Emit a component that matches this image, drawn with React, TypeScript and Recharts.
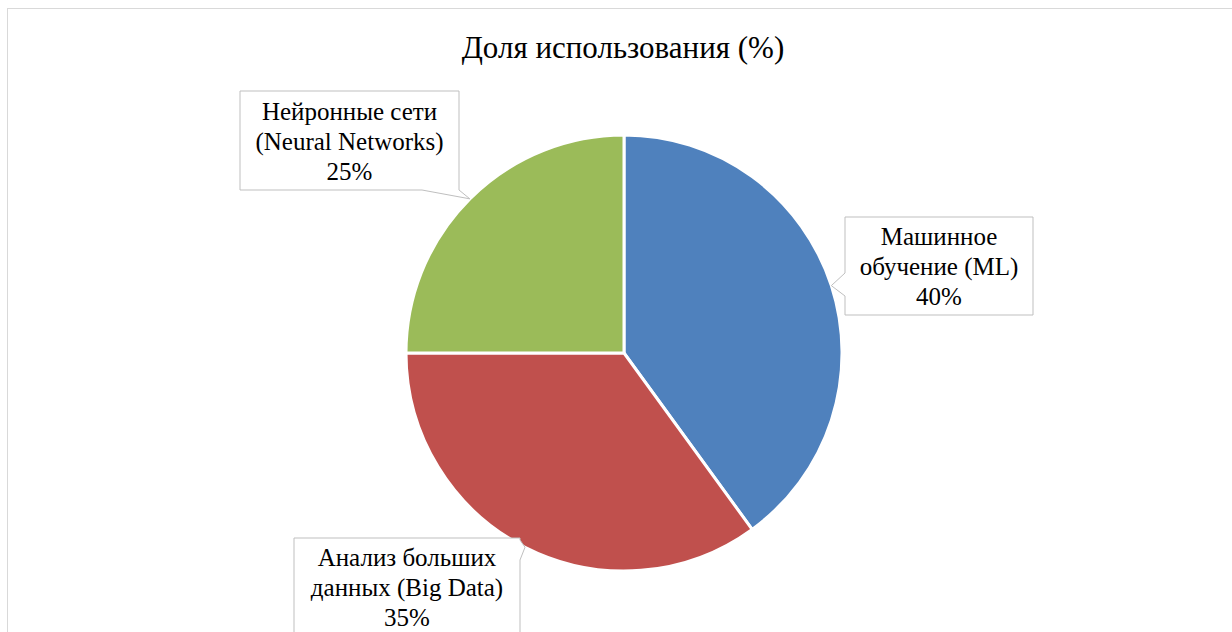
import React from 'react';
import { PieChart, Pie, Cell } from 'recharts';

const TITLE = 'Доля использования (%)';
const CATEGORIES = ['Машинное\nобучение (ML)', 'Анализ больших\nданных (Big Data)', 'Нейронные сети\n(Neural Networks)'];
const SHARES = [40, 35, 25];
const COLORS = ['#4F81BD', '#C0504D', '#9BBB59'];

// callout boxes (page coords) + which side the pointer leaves from
const BOXES = [
  { x: 845, y: 217, w: 188, h: 98, side: 'left', a: 273, b: 296 },
  { x: 294, y: 538, w: 226, h: 98, side: 'right', a: 540, b: 560 },
  { x: 240, y: 91, w: 219, h: 99, side: 'bottom', a: 422, b: 459 },
];

const FONT = "'Times New Roman', 'Liberation Serif', 'DejaVu Serif', serif";
const RADIAN = Math.PI / 180;

const data = CATEGORIES.map((name, i) => ({ name, value: SHARES[i] }));

function calloutPath(bx: any, tx: number, ty: number) {
  const { x, y, w, h, side, a, b } = bx;
  let d = `M${x},${y} L${x + w},${y} `;
  if (side === 'right') d += `L${x + w},${a} L${tx},${ty} L${x + w},${b} `;
  d += `L${x + w},${y + h} `;
  if (side === 'bottom') d += `L${b},${y + h} L${tx},${ty} L${a},${y + h} `;
  d += `L${x},${y + h} `;
  if (side === 'left') d += `L${x},${b} L${tx},${ty} L${x},${a} `;
  return d + 'Z';
}

function renderLabel(props: any) {
  const { cx, cy, midAngle, outerRadius, index, value } = props;
  const tx = cx + outerRadius * Math.cos(-midAngle * RADIAN);
  const ty = cy + outerRadius * Math.sin(-midAngle * RADIAN);
  const bx = BOXES[index];
  const lines = [...CATEGORIES[index].split('\n'), `${value}%`];
  const mx = bx.x + bx.w / 2;
  const my = bx.y + bx.h / 2;
  return (
    <g key={`lbl-${index}`}>
      <path d={calloutPath(bx, tx, ty)} fill="#fff" stroke="#bfbfbf" strokeWidth={1} />
      {lines.map((ln, j) => (
        <text key={j} x={mx} y={my + (j - 1) * 30 + 9} textAnchor="middle" style={{ fontFamily: FONT }} fontSize={25} fill="#000">
          {ln}
        </text>
      ))}
    </g>
  );
}

export default function App() {
  return (
    <div style={{ position: 'absolute', left: 0, top: 0, width: 1232, height: 632, overflow: 'hidden', background: '#fff' }}>
      <div style={{ position: 'absolute', left: 7, top: 8, width: 1300, height: 700, border: '1px solid #d9d9d9', boxSizing: 'border-box' }} />
      <div style={{ position: 'absolute', left: 0, top: 30, width: 1246, textAlign: 'center', fontFamily: FONT, fontSize: 31, color: '#000' }}>
        {TITLE}
      </div>
      <div style={{ position: 'absolute', left: 0, top: 0 }}>
        <PieChart width={1232} height={632} margin={{ top: 0, right: 0, bottom: 0, left: 0 }}>
          <Pie
            data={data}
            dataKey="value"
            nameKey="name"
            cx={624}
            cy={353}
            outerRadius={218}
            startAngle={90}
            endAngle={-270}
            stroke="#fff"
            strokeWidth={3}
            label={renderLabel}
            labelLine={false}
            isAnimationActive={false}
          >
            {data.map((_, i) => (
              <Cell key={`c-${i}`} fill={COLORS[i]} />
            ))}
          </Pie>
        </PieChart>
      </div>
    </div>
  );
}
